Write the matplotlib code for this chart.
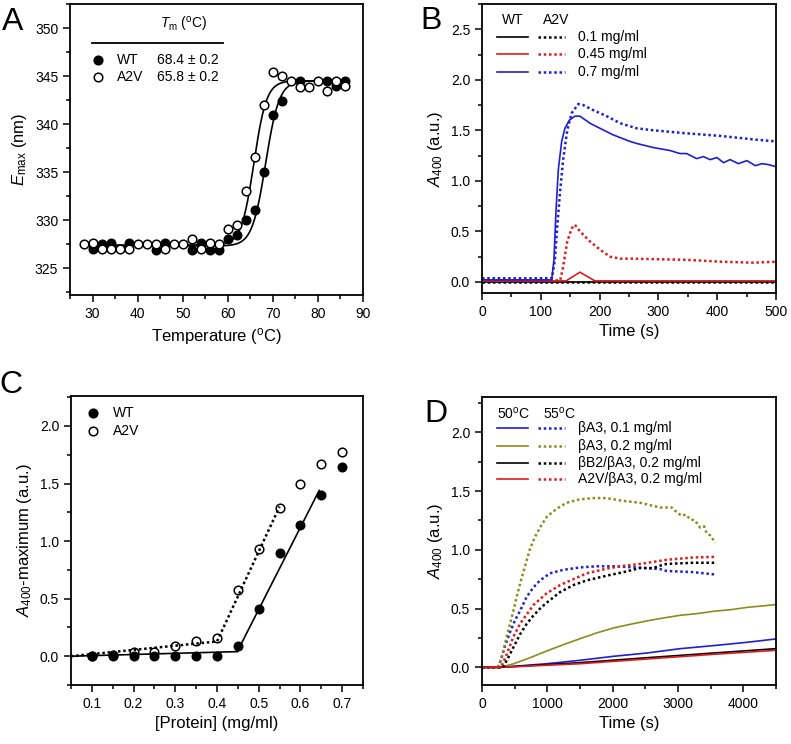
import numpy as np
import matplotlib
matplotlib.use("Agg")
import matplotlib.pyplot as plt
from matplotlib.ticker import MultipleLocator, FormatStrFormatter

plt.rcParams['font.family'] = ['Liberation Sans', 'DejaVu Sans']
plt.rcParams['mathtext.fontset'] = 'custom'
plt.rcParams['mathtext.rm'] = 'Liberation Sans'
plt.rcParams['mathtext.it'] = 'Liberation Sans:italic'
plt.rcParams['mathtext.bf'] = 'Liberation Sans:bold'

# ---------------- Panel A data ----------------
wt_T = [30, 32, 34, 38, 44, 46, 52, 54, 56, 58, 60, 62, 64, 66, 68, 70, 72, 76, 82, 84, 86]
wt_E = [327.0, 327.5, 327.6, 327.6, 326.9, 327.6, 326.9, 327.6, 326.9, 326.9, 328.0, 328.4,
        330.0, 331.0, 335.0, 340.9, 342.4, 344.5, 344.5, 344.0, 344.5]
a2v_T = [28, 30, 32, 34, 36, 38, 40, 42, 44, 46, 48, 50, 52, 54, 56, 58, 60, 62, 64, 66, 68,
         70, 72, 74, 76, 78, 80, 82, 84, 86]
a2v_E = [327.5, 327.6, 327.0, 327.0, 327.0, 327.0, 327.5, 327.5, 327.5, 327.0, 327.5, 327.5,
         328.0, 327.0, 327.6, 327.5, 329.1, 329.5, 333.0, 336.6, 342.0, 345.4, 345.0, 344.5,
         343.9, 343.9, 344.5, 343.4, 344.5, 344.0]
# Boltzmann fit parameters
fit_names = ['WT', 'A2V']
fit_tm = [68.4, 65.8]
fit_tm_err = [0.2, 0.2]
fit_low = [327.3, 327.4]
fit_high = [344.5, 344.5]
fit_dx = [1.5, 1.4]
fit_range = (28.5, 86.5)

# ---------------- Panel B data ----------------
b_t_wt07 = [0, 118.5, 122.4, 125.9, 129.8, 135.5, 141, 148.5, 158, 166.6, 183.6, 200.6, 223,
            251.7, 263, 291, 319.7, 336.7, 348, 365, 376.5, 388, 399.5, 410.8, 422, 436, 450.6,
            464.8, 476, 487.6, 500]
b_A_wt07 = [0.02, 0.02, 0.22, 0.71, 1.11, 1.39, 1.52, 1.60, 1.64, 1.64, 1.57, 1.52, 1.455,
            1.39, 1.37, 1.33, 1.30, 1.27, 1.27, 1.22, 1.24, 1.21, 1.23, 1.18, 1.21, 1.17, 1.20,
            1.15, 1.17, 1.16, 1.14]
b_t_a2v07 = [0, 119, 124, 128, 132.6, 138, 145, 152.5, 163.8, 172, 189, 212, 235, 263, 291.4,
             348, 404.8, 461.5, 500]
b_A_a2v07 = [0.036, 0.036, 0.22, 0.55, 0.88, 1.21, 1.50, 1.67, 1.76, 1.75, 1.70, 1.64, 1.57,
             1.52, 1.50, 1.47, 1.445, 1.41, 1.39]
b_t_wt045 = [0, 143, 166.6, 192, 500]
b_A_wt045 = [0.01, 0.01, 0.096, 0.01, 0.01]
b_t_a2v045 = [0, 133, 138, 145, 152.5, 158, 166.6, 183.6, 200.6, 217.6, 235, 252, 348, 404.8,
              461.5, 500]
b_A_a2v045 = [0.015, 0.015, 0.15, 0.40, 0.53, 0.565, 0.50, 0.40, 0.32, 0.25, 0.23, 0.23, 0.218,
              0.20, 0.19, 0.20]
b_t_01 = [0, 500]
b_A_wt01 = [0.0, 0.0]
b_A_a2v01 = [0.0, 0.0]
b_labels = ['0.1 mg/ml', '0.45 mg/ml', '0.7 mg/ml']

# ---------------- Panel C data ----------------
c_prot = [0.1, 0.15, 0.2, 0.25, 0.3, 0.35, 0.4, 0.45, 0.5, 0.55, 0.6, 0.65, 0.7]
c_wt = [0.0, 0.0, 0.006, 0.003, 0.006, 0.006, 0.006, 0.093, 0.406, 0.896, 1.142, 1.397, 1.643]
c_a2v = [0.006, 0.014, 0.04, 0.035, 0.087, 0.136, 0.16, 0.571, 0.928, 1.284, 1.499, 1.672, 1.771]
c_fit_wt_x = [0.05, 0.45, 0.45, 0.645]
c_fit_wt_y = [0.0, 0.04, 0.05, 1.44]
c_fit_a2v_x = [0.05, 0.40, 0.55]
c_fit_a2v_y = [0.0, 0.128, 1.30]

# ---------------- Panel D data ----------------
d_labels = ['\u03b2A3, 0.1 mg/ml', '\u03b2A3, 0.2 mg/ml',
            '\u03b2B2/\u03b2A3, 0.2 mg/ml', 'A2V/\u03b2A3, 0.2 mg/ml']
d_colors = ['#1f1fd0', '#8c8c1a', '#000000', '#e01b1b']
d55_t = [
    [0, 250, 301, 352, 429, 505, 582, 684, 786, 888, 1041, 1245, 1500, 1756, 2011, 2368, 2726,
     2828, 3236, 3568],
    [0, 240, 275, 327, 378, 429, 480, 531, 582, 633, 684, 735, 812, 888, 990, 1143, 1296, 1500,
     1705, 1909, 2113, 2420, 2726, 2905, 3000, 3058, 3120, 3185, 3260, 3338, 3400, 3440, 3500,
     3568],
    [0, 320, 403, 480, 582, 684, 786, 888, 990, 1194, 1398, 1603, 1909, 2164, 2420, 2624, 2726,
     2828, 3236, 3568],
    [0, 290, 378, 480, 582, 684, 786, 888, 990, 1194, 1398, 1603, 1909, 2113, 2420, 2828, 3236,
     3568],
]
d55_A = [
    [0.0, 0.0, 0.085, 0.18, 0.30, 0.40, 0.48, 0.60, 0.68, 0.74, 0.80, 0.83, 0.85, 0.86, 0.86,
     0.85, 0.836, 0.82, 0.81, 0.79],
    [0.0, 0.0, 0.04, 0.14, 0.26, 0.37, 0.48, 0.60, 0.71, 0.81, 0.91, 1.01, 1.11, 1.19, 1.28,
     1.35, 1.40, 1.43, 1.44, 1.44, 1.42, 1.40, 1.36, 1.36, 1.31, 1.29, 1.30, 1.26, 1.25, 1.19,
     1.20, 1.14, 1.12, 1.06],
    [0.0, 0.0, 0.085, 0.17, 0.28, 0.37, 0.44, 0.50, 0.55, 0.64, 0.70, 0.74, 0.78, 0.81, 0.845,
     0.845, 0.865, 0.88, 0.89, 0.89],
    [0.0, 0.0, 0.11, 0.26, 0.37, 0.45, 0.53, 0.58, 0.63, 0.70, 0.75, 0.80, 0.84, 0.86, 0.88,
     0.915, 0.935, 0.94],
]
d50_t = [
    [0, 276, 990, 1500, 2011, 2522, 3032, 3543, 4053, 4487, 4500],
    [0, 276, 480, 735, 990, 1245, 1500, 1756, 2011, 2266, 2522, 2777, 3032, 3288, 3543, 3798,
     4053, 4500],
    [0, 276, 1500, 2522, 3543, 4500],
    [0, 276, 1500, 2522, 3543, 4500],
]
d50_A = [
    [0.0, 0.0, 0.031, 0.06, 0.094, 0.122, 0.159, 0.185, 0.213, 0.241, 0.242],
    [0.0, 0.0, 0.03, 0.082, 0.139, 0.193, 0.244, 0.293, 0.335, 0.366, 0.395, 0.42, 0.443,
     0.457, 0.477, 0.49, 0.51, 0.534],
    [0.0, 0.0, 0.04, 0.082, 0.122, 0.159],
    [0.0, 0.0, 0.031, 0.071, 0.111, 0.145],
]

W, H = 791, 744
fig = plt.figure(figsize=(W / 100, H / 100), dpi=100)


def add_ax(l, t, r, b):
    return fig.add_axes([l / W, 1 - b / H, (r - l) / W, (b - t) / H])


def style(ax):
    for s in ax.spines.values():
        s.set_linewidth(1.3)
    ax.tick_params(which='both', direction='out', top=False, right=False,
                   labelsize=10, width=1.1)
    ax.tick_params(which='major', length=5)
    ax.tick_params(which='minor', length=3)


DOT = (0, (1, 1.1))
TFS = 10
LFS = 12

# ---------------- Panel A ----------------
axA = add_ax(70, 4, 363, 295)
style(axA)
Tfit = np.linspace(fit_range[0], fit_range[1], 400)
for tm, lo, hi, dx in zip(fit_tm, fit_low, fit_high, fit_dx):
    axA.plot(Tfit, lo + (hi - lo) / (1 + np.exp((tm - Tfit) / dx)), color='k', lw=1.2, zorder=2)
axA.plot(wt_T, wt_E, 'o', ms=6.2, mfc='k', mec='k', zorder=3)
axA.plot(a2v_T, a2v_E, 'o', ms=6.2, mfc='white', mec='k', mew=1.1, zorder=4)
axA.set_xlim(25, 90)
axA.set_ylim(322.2, 352.5)
axA.xaxis.set_major_locator(MultipleLocator(10))
axA.xaxis.set_minor_locator(MultipleLocator(5))
axA.yaxis.set_major_locator(MultipleLocator(5))
axA.yaxis.set_minor_locator(MultipleLocator(2.5))
axA.set_xlabel(r'Temperature ($^{\mathrm{o}}$C)', fontsize=LFS, labelpad=4)
axA.set_ylabel(r'$\mathit{E}_{\mathrm{max}}$ (nm)', fontsize=LFS, labelpad=4)
tr = axA.transAxes
axA.text(0.386, 0.928, r'$\mathit{T}_{\mathrm{m}}$ ($^{\mathrm{o}}$C)', transform=tr,
         ha='center', va='center', fontsize=TFS)
axA.plot([0.075, 0.522], [0.866, 0.866], color='k', lw=1.3, transform=tr)
rows_y = [0.808, 0.749]
fills = ['k', 'white']
for name, tm, err, y, fc in zip(fit_names, fit_tm, fit_tm_err, rows_y, fills):
    axA.plot([0.096], [y], 'o', ms=6.2, mfc=fc, mec='k', mew=1.1, transform=tr)
    axA.text(0.16, y, name, transform=tr, ha='left', va='center', fontsize=TFS)
    axA.text(0.297, y, f'{tm:.1f} \u00b1 {err:.1f}', transform=tr, ha='left', va='center',
             fontsize=TFS)

# ---------------- Panel B ----------------
axB = add_ax(482, 4, 776, 293)
style(axB)
axB.plot(b_t_01, b_A_wt01, color='k', lw=1.2)
axB.plot(b_t_01, b_A_a2v01, color='k', lw=1.8, ls=DOT)
axB.plot(b_t_wt045, b_A_wt045, color='#e01b1b', lw=1.2)
axB.plot(b_t_a2v045, b_A_a2v045, color='#e01b1b', lw=1.8, ls=DOT)
axB.plot(b_t_wt07, b_A_wt07, color='#1f1fd0', lw=1.2)
axB.plot(b_t_a2v07, b_A_a2v07, color='#1f1fd0', lw=1.8, ls=DOT)
axB.set_xlim(0, 500)
axB.set_ylim(-0.11, 2.75)
axB.xaxis.set_major_locator(MultipleLocator(100))
axB.xaxis.set_minor_locator(MultipleLocator(50))
axB.yaxis.set_major_locator(MultipleLocator(0.5))
axB.yaxis.set_minor_locator(MultipleLocator(0.25))
axB.yaxis.set_major_formatter(FormatStrFormatter('%.1f'))
axB.set_xlabel('Time (s)', fontsize=LFS, labelpad=4)
axB.set_ylabel(r'$\mathit{A}_{400}$ (a.u.)', fontsize=LFS, labelpad=4)
tr = axB.transAxes
axB.text(0.068, 0.945, 'WT', transform=tr, ha='left', va='center', fontsize=TFS)
axB.text(0.207, 0.945, 'A2V', transform=tr, ha='left', va='center', fontsize=TFS)
for lab, y, c in zip(b_labels, [0.886, 0.827, 0.765], ['k', '#e01b1b', '#1f1fd0']):
    axB.plot([0.051, 0.156], [y, y], color=c, lw=1.2, transform=tr)
    axB.plot([0.19, 0.282], [y, y], color=c, lw=1.8, ls=DOT, transform=tr)
    axB.text(0.327, y, lab, transform=tr, ha='left', va='center', fontsize=TFS)

# ---------------- Panel C ----------------
axC = add_ax(71, 396, 363, 685)
style(axC)
axC.plot(c_fit_wt_x, c_fit_wt_y, color='k', lw=1.2, zorder=2)
axC.plot(c_fit_a2v_x, c_fit_a2v_y, color='k', lw=1.8, ls=DOT, zorder=2)
axC.plot(c_prot, c_wt, 'o', ms=6.2, mfc='k', mec='k', zorder=3)
axC.plot(c_prot, c_a2v, 'o', ms=6.2, mfc='none', mec='k', mew=1.1, zorder=4)
axC.set_xlim(0.05, 0.75)
axC.set_ylim(-0.25, 2.26)
axC.xaxis.set_major_locator(MultipleLocator(0.1))
axC.xaxis.set_minor_locator(MultipleLocator(0.05))
axC.yaxis.set_major_locator(MultipleLocator(0.5))
axC.yaxis.set_minor_locator(MultipleLocator(0.25))
axC.yaxis.set_major_formatter(FormatStrFormatter('%.1f'))
axC.set_xlabel('[Protein] (mg/ml)', fontsize=LFS, labelpad=4)
axC.set_ylabel(r'$\mathit{A}_{400}$-maximum (a.u.)', fontsize=LFS, labelpad=4)
tr = axC.transAxes
for name, y, fc in zip(fit_names, [0.941, 0.879], ['k', 'white']):
    axC.plot([0.075], [y], 'o', ms=6.2, mfc=fc, mec='k', mew=1.1, transform=tr)
    axC.text(0.144, y, name, transform=tr, ha='left', va='center', fontsize=TFS)

# ---------------- Panel D ----------------
axD = add_ax(482, 397, 776, 685)
style(axD)
for t, a, c in zip(d50_t, d50_A, d_colors):
    axD.plot(t, a, color=c, lw=1.2)
for t, a, c in zip(d55_t, d55_A, d_colors):
    axD.plot(t, a, color=c, lw=1.8, ls=DOT)
axD.set_xlim(0, 4500)
axD.set_ylim(-0.15, 2.3)
axD.xaxis.set_major_locator(MultipleLocator(1000))
axD.xaxis.set_minor_locator(MultipleLocator(500))
axD.yaxis.set_major_locator(MultipleLocator(0.5))
axD.yaxis.set_minor_locator(MultipleLocator(0.25))
axD.yaxis.set_major_formatter(FormatStrFormatter('%.1f'))
axD.set_xlabel('Time (s)', fontsize=LFS, labelpad=4)
axD.set_ylabel(r'$\mathit{A}_{400}$ (a.u.)', fontsize=LFS, labelpad=4)
tr = axD.transAxes
axD.text(0.051, 0.944, r'50$^{\mathrm{o}}$C', transform=tr, ha='left', va='center', fontsize=TFS)
axD.text(0.207, 0.944, r'55$^{\mathrm{o}}$C', transform=tr, ha='left', va='center', fontsize=TFS)
for lab, y, c in zip(d_labels, [0.892, 0.830, 0.771, 0.715], d_colors):
    axD.plot([0.051, 0.156], [y, y], color=c, lw=1.2, transform=tr)
    axD.plot([0.19, 0.282], [y, y], color=c, lw=1.8, ls=DOT, transform=tr)
    axD.text(0.327, y, lab, transform=tr, ha='left', va='center', fontsize=TFS)

# panel letters
for letter, x, y in [('A', 13, 22), ('B', 431, 21), ('C', 11, 385), ('D', 436, 414)]:
    fig.text(x / W, 1 - y / H, letter, ha='center', va='center', fontsize=23)

fig.savefig('out.png', dpi=100)
